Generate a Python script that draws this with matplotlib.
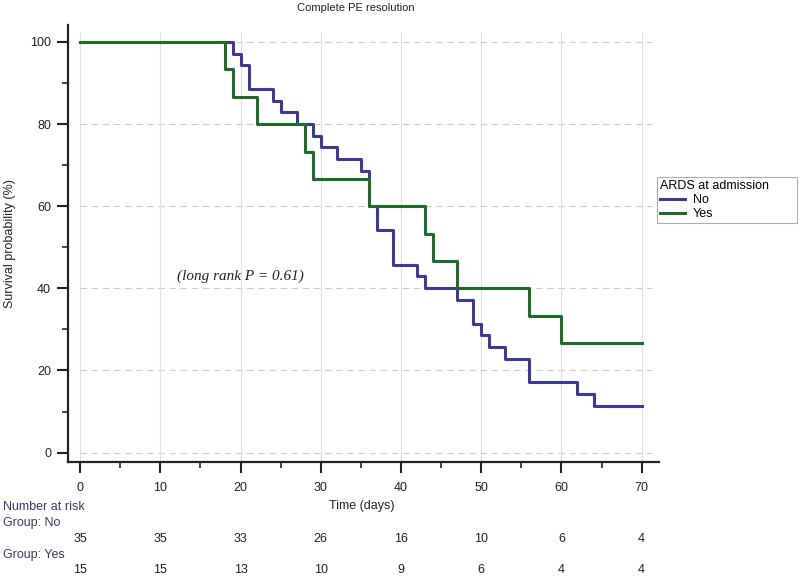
import matplotlib
matplotlib.use("Agg")
import matplotlib.pyplot as plt
import matplotlib.transforms as mtransforms

# Kaplan-Meier step data (days, survival %)
no_days = [0, 19, 20, 21, 24, 25, 27, 29, 30, 32, 35, 36, 37, 39, 42, 43, 47, 49, 50, 51, 53, 56, 62, 64, 70]
no_surv = [100, 97.1, 94.3, 88.6, 85.7, 82.9, 80.0, 77.1, 74.3, 71.4, 68.6, 60.0, 54.3, 45.7, 42.9, 40.0,
           37.1, 31.4, 28.6, 25.7, 22.9, 17.1, 14.3, 11.4, 11.4]
yes_days = [0, 18, 19, 22, 28, 29, 36, 43, 44, 47, 56, 60, 70]
yes_surv = [100, 93.3, 86.7, 80.0, 73.3, 66.7, 60.0, 53.3, 46.7, 40.0, 33.3, 26.7, 26.7]

risk_times = [0, 10, 20, 30, 40, 50, 60, 70]
risk_no = [35, 35, 33, 26, 16, 10, 6, 4]
risk_yes = [15, 15, 13, 10, 9, 6, 4, 4]

y_ticks = [0, 20, 40, 60, 80, 100]

blue = "#3b3b96"
green = "#1e6b2c"
label_col = "#3a3a6c"
fs = 9

plt.rcParams["font.family"] = ["Liberation Sans", "DejaVu Sans"]

fig = plt.figure(figsize=(8, 5.78), dpi=100)
ax = fig.add_axes([0.0846, 0.2002, 0.7395, 0.7565])

# grid drawn by hand so it starts at x = 0 like the original
for y in y_ticks:
    ax.plot([0, 71.3], [y, y], color="#cccccc", lw=0.8, ls=(0, (6, 4)), zorder=1)
for x in risk_times:
    ax.plot([x, x], [-2.4, 102.5], color="#e0e0e0", lw=0.8, zorder=1)

ax.step(no_days, no_surv, where="post", color=blue, lw=2.2, label="No", zorder=3)
ax.step(yes_days, yes_surv, where="post", color=green, lw=2.2, label="Yes", zorder=3)

ax.set_xlim(-1.55, 72.2)
ax.set_ylim(-2.35, 104.1)
ax.set_xticks(risk_times)
ax.set_xticks(range(5, 70, 10), minor=True)
ax.set_yticks(y_ticks)
ax.set_yticks(range(10, 100, 20), minor=True)

for s in ["top", "right"]:
    ax.spines[s].set_visible(False)
for s in ["left", "bottom"]:
    ax.spines[s].set_linewidth(1.6)
    ax.spines[s].set_color("#222222")

ax.tick_params(which="major", length=8, width=1.5, color="#222222", labelsize=fs, labelcolor="#222222")
ax.tick_params(which="minor", length=4, width=1.2, color="#222222")
ax.tick_params(axis="x", which="major", pad=6)
ax.tick_params(axis="y", which="major", pad=4)

ax.text(20, 43, "(long rank P = 0.61)", family=["Liberation Serif", "DejaVu Serif"], style="italic",
        fontsize=11, ha="center", va="center", color="#222222")

leg = ax.legend(title="ARDS at admission", loc="upper left",
                bbox_to_anchor=(657 / 800, 1 - 228 / 578, 140 / 800, 51 / 578), mode="expand",
                bbox_transform=fig.transFigure, fontsize=fs, title_fontsize=fs, frameon=True,
                fancybox=False, borderpad=0.25, handlelength=2.0, handletextpad=0.6, labelspacing=0.15,
                borderaxespad=0)
leg._legend_box.align = "left"
leg.get_frame().set_edgecolor("#999999")
leg.get_frame().set_linewidth(0.8)
for line in leg.get_lines():
    line.set_linewidth(2.2)

fig.text(356 / 800, 1 - 8 / 578, "Complete PE resolution", ha="center", va="center", fontsize=8, color="#222222")
fig.text(10 / 800, 1 - 243.5 / 578, "Survival probability (%)", rotation=90, ha="center", va="center",
         fontsize=fs, color="#222222")
fig.text(362 / 800, 1 - 506 / 578, "Time (days)", ha="center", va="center", fontsize=fs, color="#222222")

# number at risk table
fig.text(2.7 / 800, 1 - 507 / 578, "Number at risk", ha="left", va="center", fontsize=fs, color=label_col)
fig.text(2.7 / 800, 1 - 523 / 578, "Group: No", ha="left", va="center", fontsize=fs, color=label_col)
fig.text(2.7 / 800, 1 - 555 / 578, "Group: Yes", ha="left", va="center", fontsize=fs, color=label_col)
trans = mtransforms.blended_transform_factory(ax.transData, fig.transFigure)
for t, n in zip(risk_times, risk_no):
    ax.text(t, 1 - 539 / 578, str(n), transform=trans, ha="center", va="center", fontsize=fs, color="#222222")
for t, n in zip(risk_times, risk_yes):
    ax.text(t, 1 - 570 / 578, str(n), transform=trans, ha="center", va="center", fontsize=fs, color="#222222")

fig.savefig("out.png", dpi=100)
